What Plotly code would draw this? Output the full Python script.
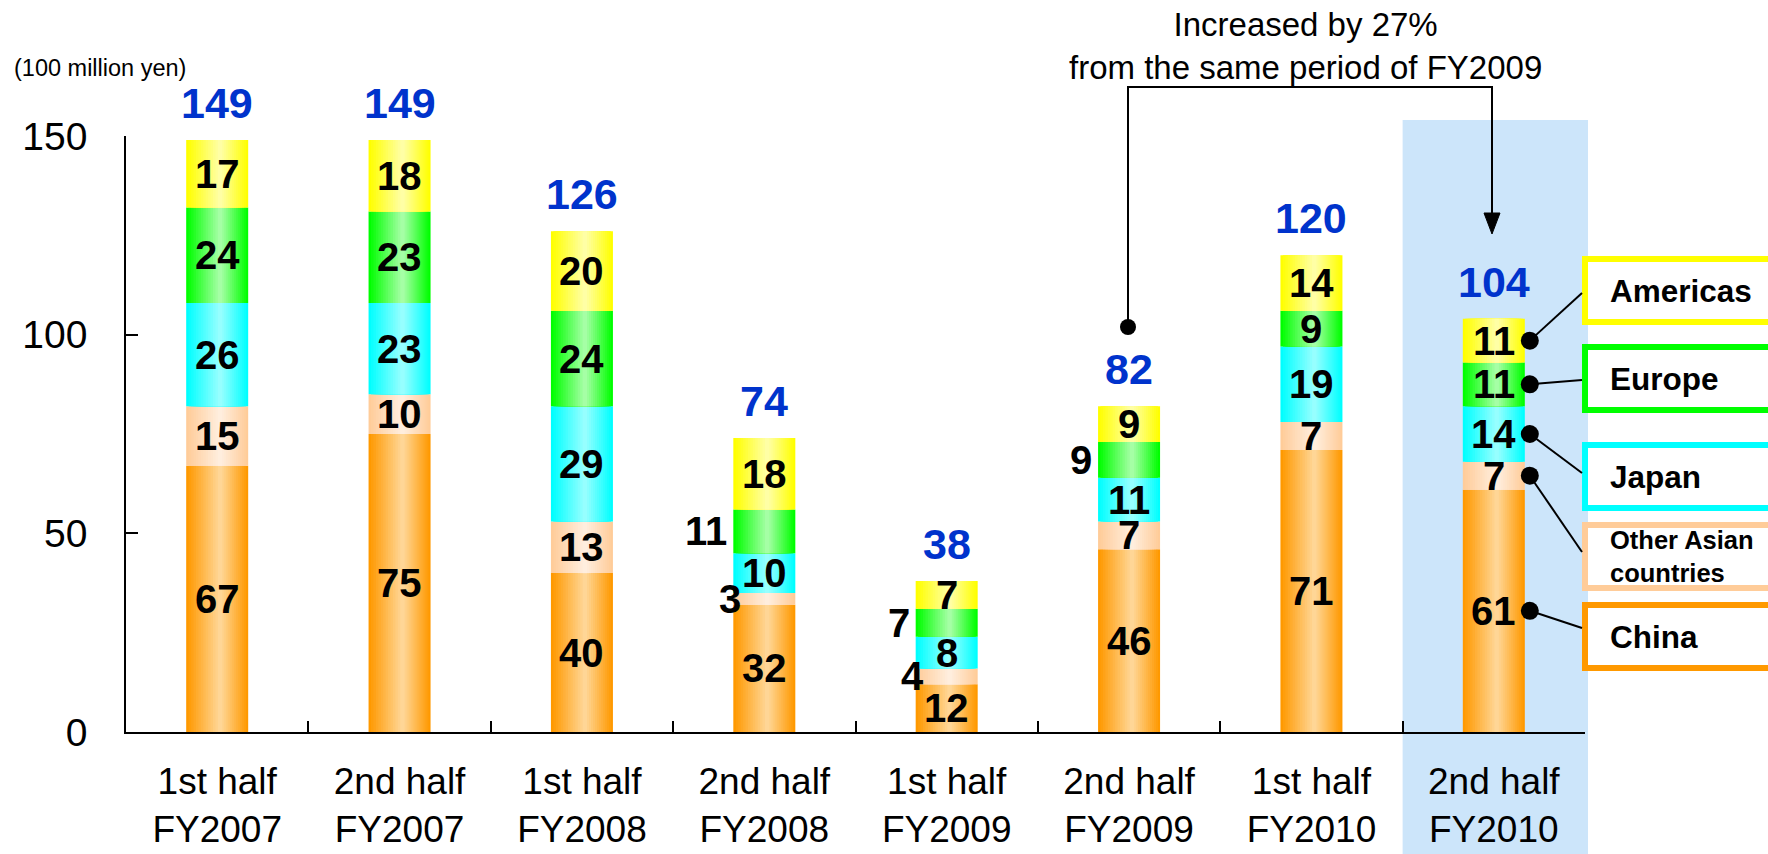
import plotly.graph_objects as go

# ---- data (100 million yen) ----
periods = ["1st half<br>FY2007", "2nd half<br>FY2007", "1st half<br>FY2008", "2nd half<br>FY2008",
           "1st half<br>FY2009", "2nd half<br>FY2009", "1st half<br>FY2010", "2nd half<br>FY2010"]
regions = ["China", "Other Asian countries", "Japan", "Europe", "Americas"]
china = [67, 75, 40, 32, 12, 46, 71, 61]
other_asia = [15, 10, 13, 3, 4, 7, 7, 7]
japan = [26, 23, 29, 10, 8, 11, 19, 14]
europe = [24, 23, 24, 11, 7, 9, 9, 11]
americas = [17, 18, 20, 18, 7, 9, 14, 11]
y_ticks = [0, 50, 100, 150]
legend_labels = ["China", "Other Asian<br>countries", "Japan", "Europe", "Americas"]
# segments whose value label sits to the left of the bar: (period index, region index)
outside_labels = [(3, 3), (3, 1), (4, 3), (4, 1), (5, 3)]

series = [china, other_asia, japan, europe, americas]
totals = [sum(v) for v in zip(*series)]

# ---- styling ----
edge_rgb = [(255, 153, 0), (255, 204, 153), (0, 255, 255), (0, 255, 0), (255, 255, 0)]
mid_rgb = [(255, 214, 150), (255, 238, 222), (150, 255, 255), (165, 255, 165), (255, 255, 165)]
box_rgb = ["#FF9900", "#FFCC99", "#00FFFF", "#00FF00", "#FFFF00"]

W, H = 1768, 854
L, R, T, B = 126, 1585, 136, 732
YMAX = 150
BAR_W = 0.34
N_LAYERS = 14
SANS = "Liberation Sans, Arial, sans-serif"


def px_x(px):
    return (px - L) / (R - L)


def px_y(py):
    return (B - py) / (B - T)


def data_x(i, dx=0.0):
    return (i + 0.5 + dx) / len(periods)


def data_y(v):
    return v / YMAX


def mix(c1, c2, t):
    return "rgb(%d,%d,%d)" % tuple(round(a + (b - a) * t) for a, b in zip(c1, c2))


fig = go.Figure()

# stacked segments, each rendered as overlaid layers to give a horizontal shading
bases = [0] * len(periods)
seg_bases = []
for r, vals in enumerate(series):
    seg_bases.append(list(bases))
    for k in range(N_LAYERS):
        frac = k / N_LAYERS
        w = BAR_W * (1 - frac)
        off = -BAR_W / 2 + 0.55 * BAR_W * frac
        fig.add_trace(go.Bar(
            x=periods, y=vals, base=list(bases),
            width=[w] * len(periods), offset=[off] * len(periods),
            marker=dict(color=mix(edge_rgb[r], mid_rgb[r], k / (N_LAYERS - 1)), line=dict(width=0)),
            hoverinfo="skip", showlegend=False,
        ))
    bases = [b + v for b, v in zip(bases, vals)]

shapes = []
annotations = []
last = len(periods) - 1

# highlighted latest period
shapes.append(dict(type="rect", xref="paper", yref="paper", layer="below",
                   x0=data_x(last, -0.5), x1=px_x(1588),
                   y0=px_y(H), y1=px_y(120), fillcolor="#CCE5FA", line=dict(width=0)))

# segment value labels
for r, vals in enumerate(series):
    for i, v in enumerate(vals):
        yc = seg_bases[r][i] + v / 2
        if (i, r) in outside_labels:
            annotations.append(dict(xref="paper", yref="paper", x=data_x(i, -BAR_W / 2),
                                    xshift=-4 if r != 1 else 10, y=data_y(yc),
                                    xanchor="right", yanchor="middle", showarrow=False,
                                    text="<b>%d</b>" % v, font=dict(family=SANS, size=40, color="black")))
        else:
            annotations.append(dict(xref="paper", yref="paper", x=data_x(i), y=data_y(yc),
                                    xanchor="center", yanchor="middle", showarrow=False,
                                    text="<b>%d</b>" % v, font=dict(family=SANS, size=40, color="black")))

# totals
for i, t in enumerate(totals):
    annotations.append(dict(xref="paper", yref="paper", x=data_x(i), y=data_y(t), yshift=37,
                            xanchor="center", yanchor="middle", showarrow=False,
                            text="<b>%d</b>" % t, font=dict(family=SANS, size=43, color="#0033CC")))

# unit label
annotations.append(dict(xref="paper", yref="paper", x=px_x(100), y=px_y(68), xanchor="center",
                        yanchor="middle", showarrow=False, text="(100 million yen)",
                        font=dict(family=SANS, size=23.5, color="black")))

# comparison callout between the two second halves
annotations.append(dict(xref="paper", yref="paper", x=px_x(1305), y=px_y(46), xanchor="center",
                        yanchor="middle", showarrow=False,
                        text="Increased by 27%<br>from the same period of FY2009",
                        font=dict(family=SANS, size=33, color="black")))
cx0, cy0, cy_top, cx1, cy1 = 1128, 327, 87, 1492, 234
shapes.append(dict(type="path", xref="paper", yref="paper",
                   path="M %f,%f L %f,%f L %f,%f L %f,%f" % (px_x(cx0), px_y(cy0), px_x(cx0), px_y(cy_top),
                                                             px_x(cx1), px_y(cy_top), px_x(cx1), px_y(cy1 - 18)),
                   line=dict(color="black", width=2)))
shapes.append(dict(type="path", xref="paper", yref="paper",
                   path="M %f,%f L %f,%f L %f,%f Z" % (px_x(cx1 - 8), px_y(cy1 - 21), px_x(cx1 + 8), px_y(cy1 - 21),
                                                      px_x(cx1), px_y(cy1)),
                   fillcolor="black", line=dict(color="black", width=1)))
shapes.append(dict(type="circle", xref="paper", yref="paper", xsizemode="pixel", ysizemode="pixel",
                   xanchor=px_x(cx0), yanchor=px_y(cy0), x0=-8, x1=8, y0=-8, y1=8,
                   fillcolor="black", line=dict(width=0)))

# region boxes linked to the latest bar
box_tops = [602, 522, 442, 344, 256]
box_h = 69
line_ends = [26, 30, 31, 36, 37]
for r in range(len(regions)):
    top = box_tops[r]
    bot = top + box_h
    shapes.append(dict(type="rect", xref="paper", yref="paper", x0=px_x(1585), x1=px_x(1810),
                       y0=px_y(bot - 3), y1=px_y(top + 3), line=dict(color=box_rgb[r], width=6),
                       fillcolor="white"))
    yc = seg_bases[r][last] + series[r][last] / 2
    dot_x = data_x(last, BAR_W / 2) + 5 / (R - L)
    shapes.append(dict(type="line", xref="paper", yref="paper", x0=dot_x, y0=data_y(yc),
                       x1=px_x(1582), y1=px_y(top + line_ends[r]), line=dict(color="black", width=2)))
    shapes.append(dict(type="circle", xref="paper", yref="paper", xsizemode="pixel", ysizemode="pixel",
                       xanchor=dot_x, yanchor=data_y(yc), x0=-9, x1=9, y0=-9, y1=9,
                       fillcolor="black", line=dict(width=0)))
    annotations.append(dict(xref="paper", yref="paper", x=px_x(1608), y=px_y((top + bot) / 2),
                            xanchor="left", yanchor="middle", showarrow=False, align="left",
                            text="<b>%s</b>" % legend_labels[r],
                            font=dict(family=SANS, size=25.5 if r == 1 else 31.5, color="black")))

fig.update_layout(
    width=W, height=H,
    margin=dict(l=L, r=W - R, t=T, b=H - B, pad=0),
    paper_bgcolor="white", plot_bgcolor="rgba(0,0,0,0)",
    barmode="overlay", showlegend=False,
    shapes=shapes, annotations=annotations,
    xaxis=dict(type="category", range=[-0.5, len(periods) - 0.5], automargin=False,
               showline=True, linecolor="black",
               linewidth=1.5, ticks="inside", tickson="boundaries", ticklen=11, tickwidth=1.5,
               tickcolor="black", showgrid=False, zeroline=False, ticklabelstandoff=16,
               tickfont=dict(family=SANS, size=37, color="black")),
    yaxis=dict(range=[0, YMAX], tickvals=y_ticks, automargin=False, showline=True, linecolor="black",
               linewidth=1.5, ticks="inside", ticklen=12, tickwidth=1.5, tickcolor="black",
               showgrid=False, zeroline=False, ticklabelstandoff=29,
               tickfont=dict(family=SANS, size=39, color="black")),
)

fig.write_html("out.html")
